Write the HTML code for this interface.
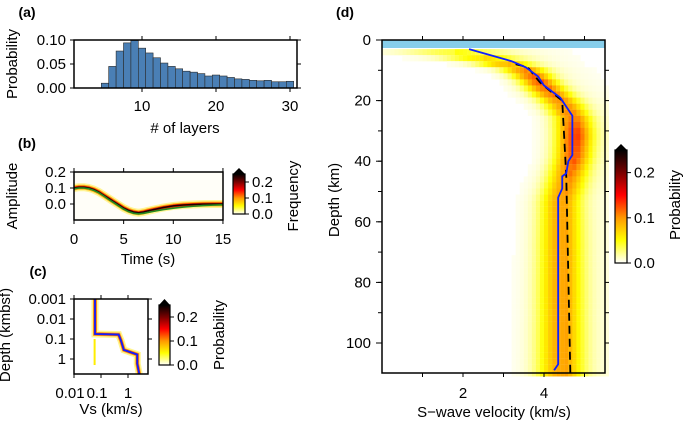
<!DOCTYPE html>
<html><head><meta charset="utf-8"><style>
html,body{margin:0;padding:0;background:#fff}
svg{display:block;font-family:"Liberation Sans",Arial,sans-serif}
</style></head><body>
<svg id="chart" width="685" height="422" viewBox="0 0 685 422" xmlns="http://www.w3.org/2000/svg">
<defs>
<linearGradient id="heatg" x1="0" y1="1" x2="0" y2="0">
<stop offset="0" stop-color="#ffffff"/><stop offset="0.2" stop-color="#ffff00"/><stop offset="0.4" stop-color="#ff9900"/><stop offset="0.6" stop-color="#ff0000"/><stop offset="0.8" stop-color="#7a0000"/><stop offset="1" stop-color="#000000"/>
</linearGradient>
</defs>
</svg>
<script>
// ---- Panel (a) data
const layers=[5,6,7,8,9,10,11,12,13,14,15,16,17,18,19,20,21,22,23,24,25,26,27,28,29,30];
const layerProb=[0.01,0.045,0.077,0.094,0.099,0.083,0.073,0.063,0.052,0.045,0.04,0.035,0.033,0.03,0.025,0.027,0.025,0.022,0.019,0.018,0.016,0.015,0.016,0.013,0.013,0.014];
const aXTicks=[10,20,30];
const aYTicks=[0,0.05,0.10];
const aYLabels=["0.00","0.05","0.10"];
// ---- Panel (b) data
const time=[0,0.5,1,1.5,2,2.5,3,3.5,4,4.5,5,5.5,6,6.5,7,7.5,8,9,10,11,12,13,14,15];
const ampMean=[0.1,0.105,0.105,0.1,0.09,0.075,0.055,0.035,0.015,-0.005,-0.025,-0.04,-0.05,-0.055,-0.05,-0.042,-0.035,-0.022,-0.012,-0.006,-0.003,-0.001,0,0];
const ampObs=[0.095,0.1,0.1,0.095,0.085,0.07,0.05,0.028,0.008,-0.012,-0.032,-0.048,-0.058,-0.062,-0.058,-0.052,-0.046,-0.035,-0.026,-0.019,-0.014,-0.01,-0.007,-0.005];
const bXTicks=[0,5,10,15];
const bYTicks=[-0.1,0,0.1,0.2];
// ---- Panel (c) data
const cVs=[0.06,0.06,0.45,0.55,0.7,2.2,2.2,2.6];
const cDepth=[0.001,0.056,0.06,0.12,0.35,0.6,1.7,5.5];
const cXTicks=[0.01,0.1,1];
const cYTicks=[0.001,0.01,0.1,1];
const cYLabels=["0.001","0.01","0.1","1"];
// ---- Panel (d) data
const dNodes=[3,6,9,12,16,20,25,30,38,45,52,70,110];
const dCenter=[1.8,2.8,3.5,3.8,4.1,4.45,4.7,4.75,4.7,4.55,4.4,4.4,4.4];
const dWidth=[0.8,0.5,0.35,0.3,0.32,0.32,0.3,0.3,0.3,0.32,0.33,0.35,0.37];
const dPeak=[0.03,0.06,0.09,0.11,0.1,0.09,0.1,0.12,0.11,0.09,0.085,0.085,0.085];
const bestDepth=[3,7,9,12,15,19,21,25,38,40,44,45,49,52,107,109];
const bestVs=[2.15,3.2,3.55,3.85,4.0,4.4,4.5,4.7,4.7,4.6,4.55,4.45,4.45,4.35,4.35,4.25];
const trueDepth=[8,9,14,19,20,45,110];
const trueVs=[3.3,3.6,3.9,4.35,4.45,4.55,4.65];
const dXTicks=[2,4];
const dYTicks=[0,20,40,60,80,100];

const NS='http://www.w3.org/2000/svg';
const svg=document.getElementById('chart');
const FS=15;
function mk(tag,a,p){const e=document.createElementNS(NS,tag);for(const k in a)e.setAttribute(k,a[k]);(p||svg).appendChild(e);return e;}
function txt(x,y,s,size,anchor,name,extra){const t=mk('text',Object.assign({x:x,y:y,'font-size':size,'text-anchor':anchor||'middle',fill:'#000'},extra||{}));t.textContent=s;


return t;}
function line(x1,y1,x2,y2,w,name){const l=mk('line',{x1:x1,y1:y1,x2:x2,y2:y2,stroke:'#000','stroke-width':w||1});


return l;}
function heat(p){const t=Math.max(0,Math.min(1,p/0.25));const st=[[255,255,255],[255,255,0],[255,153,0],[255,0,0],[122,0,0],[0,0,0]];
const f=t*5,i=Math.min(4,Math.floor(f)),r=f-i;const a=st[i],b=st[i+1];return 'rgb('+a.map((v,k)=>Math.round(v+(b[k]-v)*r)).join(',')+')';}
function poly(xs,ys,fx,fy){return xs.map((v,i)=>fx(v)+','+fy(ys[i])).join(' ');}
function colorbar(x,y0,y1,w,ticks,labels,name){
  const tri=mk('polygon',{points:(x)+','+(y0)+' '+(x+w/2)+','+(y0-6)+' '+(x+w)+','+y0,fill:'#000'});
  
  
  const r=mk('rect',{x:x,y:y0,width:w,height:y1-y0,fill:'url(#heatg)',stroke:'#000','stroke-width':1.2});
  
  
  ticks.forEach((v,i)=>{const yy=y1-(y1-y0)*v/0.25;line(x+w,yy,x+w+4,yy,1,name+'-tick');txt(x+w+7,yy+5,labels[i],FS,'start',name+'-label');});
}

// ================= Panel (a)
const xa=v=>142+(v-10)*7.4, ya=p=>88-p*480;
txt(27,17,'(a)',14,'middle','panel-a-label',{'font-weight':'bold'});
layers.forEach((v,i)=>{const b=mk('rect',{x:xa(v)-3.7,y:ya(layerProb[i]),width:7.4,height:88-ya(layerProb[i]),fill:'#4a7fb5',stroke:'#2a2a2a','stroke-width':0.6});

});
let fr=mk('rect',{x:74,y:40,width:223,height:48,fill:'none',stroke:'#000','stroke-width':1.5});


aXTicks.forEach(v=>{line(xa(v),88,xa(v),92,1,'a-x-tick');line(xa(v),36,xa(v),40,1,'a-x-tick-top');txt(xa(v),111,String(v),FS,'middle','a-x-tick-label');});
aYTicks.forEach((v,i)=>{line(70,ya(v),74,ya(v),1,'a-y-tick');line(297,ya(v),301,ya(v),1,'a-y-tick-right');txt(66,ya(v)+5,aYLabels[i],FS,'end','a-y-tick-label');});
txt(185,133,'# of layers',FS,'middle','a-x-axis-title');
txt(17,64,'Probability',FS,'middle','a-y-axis-title',{transform:'rotate(-90 17 64)'});

// ================= Panel (b)
const xb=t=>74+t*9.93, yb=a=>204-a*160;
txt(27,148,'(b)',14,'middle','panel-b-label',{'font-weight':'bold'});
let bg=mk('rect',{x:74,y:172,width:149,height:48,fill:'#fffef8'});


[['#ffee55',8,0.6],['#ffaa00',5,0.85],['#ee2200',3,1],['#220000',1.5,1]].forEach((s,i)=>{const p=mk('polyline',{points:poly(time,ampMean,xb,yb),fill:'none',stroke:s[0],'stroke-width':s[1],opacity:s[2],'stroke-linejoin':'round'});

});
let gl=mk('polyline',{points:poly(time,ampObs,xb,yb),fill:'none',stroke:'#228b22','stroke-width':1.6});


fr=mk('rect',{x:74,y:172,width:149,height:48,fill:'none',stroke:'#000','stroke-width':1.5});


bXTicks.forEach(v=>{line(xb(v),220,xb(v),224,1,'b-x-tick');line(xb(v),168,xb(v),172,1,'b-x-tick-top');txt(xb(v),244,String(v),FS,'middle','b-x-tick-label');});
bYTicks.forEach(v=>{if(v<-0.05)return;line(70,yb(v),74,yb(v),1,'b-y-tick');txt(66,yb(v)+5,v.toFixed(1),FS,'end','b-y-tick-label');});
txt(148,264,'Time (s)',FS,'middle','b-x-axis-title');
txt(17,196,'Amplitude',FS,'middle','b-y-axis-title',{transform:'rotate(-90 17 196)'});
colorbar(233,174,214,12,[0,0.1,0.2],['0.0','0.1','0.2'],'b-colorbar');
txt(298,196,'Frequency',FS,'middle','b-colorbar-title',{transform:'rotate(-90 298 196)'});

// ================= Panel (c)
const xc=v=>74+27*(Math.log10(v)+2), yc=d=>299+20*(Math.log10(d)+3);
txt(38,276,'(c)',14,'middle','panel-c-label',{'font-weight':'bold'});
let yl=mk('line',{x1:xc(0.058),y1:yc(0.1),x2:xc(0.058),y2:yc(2),stroke:'#ffee00','stroke-width':2});


[['#ffee44',7,0.6],['#ff9900',4,0.8],['#ee2200',2.5,0.9]].forEach(s=>{const p=mk('polyline',{points:poly(cVs,cDepth,xc,yc),fill:'none',stroke:s[0],'stroke-width':s[1],opacity:s[2]});

});
let bc=mk('polyline',{points:poly(cVs,cDepth,xc,yc),fill:'none',stroke:'#1020ff','stroke-width':1.8});


fr=mk('rect',{x:74,y:299,width:74,height:75,fill:'none',stroke:'#000','stroke-width':1.5});


cXTicks.forEach((v,i)=>{line(xc(v),374,xc(v),378,1,'c-x-tick');line(xc(v),295,xc(v),299,1,'c-x-tick-top');});
txt(xc(0.01)-4,398,'0.01',FS,'middle','c-x-tick-label');txt(xc(0.1)-4,398,'0.1',FS,'middle','c-x-tick-label');txt(xc(1),398,'1',FS,'middle','c-x-tick-label');
cYTicks.forEach((v,i)=>{line(70,yc(v),74,yc(v),1,'c-y-tick');line(148,yc(v),152,yc(v),1,'c-y-tick-right');txt(66,yc(v)+5,cYLabels[i],FS,'end','c-y-tick-label');});
txt(111,414,'Vs (km/s)',FS,'middle','c-x-axis-title');
txt(10,335,'Depth (kmbsf)',FS,'middle','c-y-axis-title',{transform:'rotate(-90 10 335)'});
colorbar(159,305,365,11,[0,0.1,0.2],['0.0','0.1','0.2'],'c-colorbar');
txt(224,335,'Probability',FS,'middle','c-colorbar-title',{transform:'rotate(-90 224 335)'});

// ================= Panel (d)
const xd=v=>382+v*40.5, yd=d=>40+d*3.03;
txt(345,17,'(d)',14,'middle','panel-d-label',{'font-weight':'bold'});
function interp(arr,d){if(d<=dNodes[0])return arr[0];for(let i=1;i<dNodes.length;i++){if(d<=dNodes[i]){const r=(d-dNodes[i-1])/(dNodes[i]-dNodes[i-1]);return arr[i-1]+(arr[i]-arr[i-1])*r;}}return arr[arr.length-1];}
const gD=mk('g',{});


for(let d=3;d<110;d+=2){const c=interp(dCenter,d),w=interp(dWidth,d),pk=interp(dPeak,d);
  for(let v=0;v<5.5;v+=0.1){const z=(v+0.05-c)/w;const z2=(v+0.05-c)/(2.2*w);
    const p=pk*Math.exp(-z*z/2)+(v>c?0.01*Math.exp(-(v-c)/1.2):0)+0.008*Math.exp(-z2*z2/2);
    if(p<0.003)continue;const cell=mk('rect',{x:xd(v),y:yd(d),width:4.2,height:6.2,fill:heat(p)},gD);
    
    }}
let wl=mk('rect',{x:382,y:40,width:223,height:8,fill:'#87ceeb'});


let tl=mk('polyline',{points:poly(trueVs,trueDepth,xd,yd),fill:'none',stroke:'#000','stroke-width':1.8,'stroke-dasharray':'8,5'});


let bl=mk('polyline',{points:poly(bestVs,bestDepth,xd,yd),fill:'none',stroke:'#1020ff','stroke-width':1.8});


fr=mk('rect',{x:382,y:40,width:223,height:333,fill:'none',stroke:'#000','stroke-width':1.5});


for(let v=1;v<=5;v++){line(xd(v),373,xd(v),377,1,'d-x-tick');line(xd(v),36,xd(v),40,1,'d-x-tick-top');}
dXTicks.forEach(v=>txt(xd(v),398,String(v),FS,'middle','d-x-tick-label'));
for(let d=10;d<=100;d+=10){line(378,yd(d),382,yd(d),1,'d-y-tick');line(605,yd(d),609,yd(d),1,'d-y-tick-right');}
dYTicks.forEach(v=>{line(376,yd(v),382,yd(v),1,'d-y-tick');txt(371,yd(v)+5,String(v),FS,'end','d-y-tick-label');});
txt(494,417,'S\u2212wave velocity (km/s)',FS,'middle','d-x-axis-title');
txt(339,200,'Depth (km)',FS,'middle','d-y-axis-title',{transform:'rotate(-90 339 200)'});
colorbar(615,150,263,12,[0,0.1,0.2],['0.0','0.1','0.2'],'d-colorbar');
txt(680,205,'Probability',FS,'middle','d-colorbar-title',{transform:'rotate(-90 680 205)'});
</script>
</body></html>
